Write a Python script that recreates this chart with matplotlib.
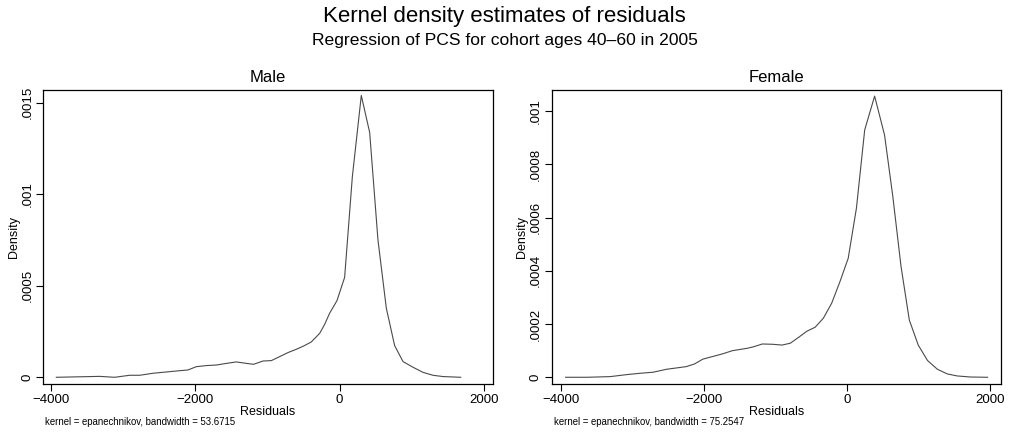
import numpy as np
import matplotlib

matplotlib.use("Agg")
import matplotlib.pyplot as plt

plt.rcParams["font.family"] = ["Liberation Sans", "DejaVu Sans"]

# values (residual, density)
male_x = [-3926, -3326, -3118, -2910, -2771, -2587, -2402, -2217, -2102, -1986,
          -1848, -1709, -1617, -1432, -1293, -1192, -1062, -947, -831, -716,
          -600, -499, -393, -277, -208, -139, -37, 69, 176, 300,
          416, 531, 647, 762, 878, 1016, 1155, 1293, 1432, 1677]
male_y = [0.0, 0.000005, 0.0, 0.000011, 0.000011, 0.000022, 0.000029, 0.000036, 0.00004, 0.000058,
          0.000064, 0.000067, 0.000073, 0.000084, 0.000076, 0.000071, 0.000089, 0.000091, 0.000113, 0.000135,
          0.000153, 0.000171, 0.000193, 0.00024, 0.000289, 0.00035, 0.000419, 0.000546, 0.001096, 0.00154,
          0.001338, 0.00075, 0.000377, 0.000173, 0.000086, 0.000055, 0.000027, 0.000011, 0.000004, 0.0]

female_x = [-3940, -3639, -3315, -3084, -2898, -2713, -2528, -2389, -2250, -2134,
            -2019, -1880, -1741, -1602, -1532, -1394, -1301, -1185, -1046, -907,
            -792, -676, -560, -444, -329, -213, -97, 19, 134, 250,
            389, 528, 644, 759, 875, 1000, 1130, 1269, 1408, 1546, 1732, 1972]
female_y = [0.0, 0.0, 0.0000025, 0.00001, 0.000015, 0.000019, 0.00003, 0.000035, 0.00004, 0.00005,
            0.000068, 0.000078, 0.000088, 0.0001, 0.000103, 0.000109, 0.000115, 0.000125, 0.000124, 0.000121,
            0.000128, 0.00015, 0.000173, 0.000188, 0.000222, 0.000278, 0.000359, 0.000447, 0.000635, 0.000929,
            0.001056, 0.00091, 0.000679, 0.000416, 0.000215, 0.000121, 0.000063, 0.00003, 0.0000125, 0.000005, 0.000001, 0.0]

x_ticks = [-4000, -2000, 0, 2000]
x_labels = ["\u22124000", "\u22122000", "0", "2000"]
male_yticks = [0, 0.0005, 0.001, 0.0015]
male_ylabels = ["0", ".0005", ".001", ".0015"]
female_yticks = [0, 0.0002, 0.0004, 0.0006, 0.0008, 0.001]
female_ylabels = ["0", ".0002", ".0004", ".0006", ".0008", ".001"]

panels = [
    ("Male", male_x, male_y, male_yticks, male_ylabels, "53.6715",
     [0.0426, 0.1193, 0.446, 0.6743], (-4111, 2125), (-0.0000366, 0.00157), -0.051),
    ("Female", female_x, female_y, female_yticks, female_ylabels, "75.2547",
     [0.5468, 0.1193, 0.4453, 0.6743], (-4135, 2160), (-0.0000252, 0.001079), -0.053),
]

fig = plt.figure(figsize=(10.09, 4.36), dpi=100)

for title, xs, ys, yt, yl, bw, pos, xlim, ylim, ylab_x in panels:
    ax = fig.add_axes(pos)
    ax.plot(xs, ys, color="#4a4a4a", linewidth=0.8)
    ax.set_xlim(*xlim)
    ax.set_ylim(*ylim)
    ax.set_xticks(x_ticks)
    ax.set_xticklabels(x_labels, fontsize=9.5)
    ax.set_yticks(yt)
    ax.set_yticklabels(yl, fontsize=9.5, rotation=90, va="center")
    ax.tick_params(direction="out", length=5, width=0.8, color="black", pad=2)
    for s in ax.spines.values():
        s.set_linewidth(0.9)
        s.set_color("black")
    ax.set_title(title, fontsize=12, pad=6)
    ax.set_xlabel("Residuals", fontsize=9, labelpad=0)
    ax.set_ylabel("Density", fontsize=9)
    ax.yaxis.set_label_coords(ylab_x, 0.5)
    ax.text(0.005, -0.128, "kernel = epanechnikov, bandwidth = " + bw,
            transform=ax.transAxes, fontsize=6.9, ha="left", va="center")

fig.text(0.5, 0.962, "Kernel density estimates of residuals", ha="center", va="center", fontsize=16)
fig.text(0.5, 0.908, "Regression of PCS for cohort ages 40\u201360 in 2005", ha="center", va="center", fontsize=12.6)

fig.savefig("out.png", dpi=100)
